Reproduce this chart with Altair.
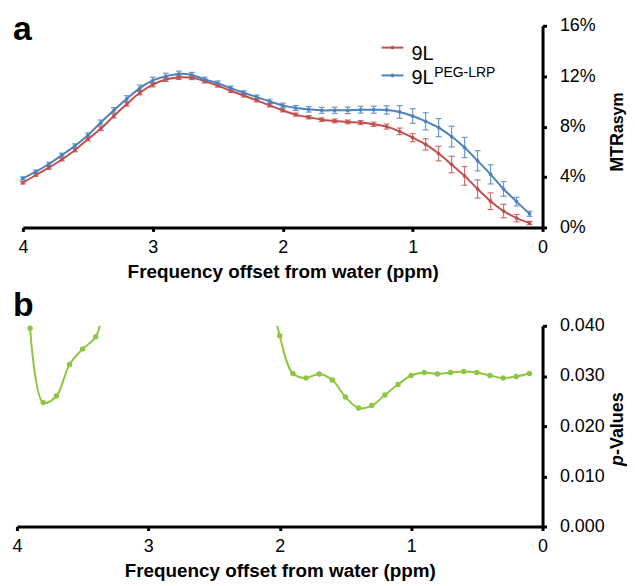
import altair as alt
import pandas as pd

FONT = "Liberation Sans"
RED = "#C0504D"
BLUE = "#4F81BD"
GREEN = "#8DC63F"

# ---------------- data ----------------
ppm = [4.0, 3.9, 3.8, 3.7, 3.6, 3.5, 3.4, 3.3, 3.2, 3.1, 3.0,
       2.9, 2.8, 2.7, 2.6, 2.5, 2.4, 2.3, 2.2, 2.1, 2.0,
       1.9, 1.8, 1.7, 1.6, 1.5, 1.4, 1.3, 1.2, 1.1, 1.0,
       0.9, 0.8, 0.7, 0.6, 0.5, 0.4, 0.3, 0.2, 0.1]

series_names = ["9L", "9L PEG-LRP"]

mtr_9l = [3.55, 4.16, 4.74, 5.39, 6.13, 7.00, 7.84, 8.84, 9.79, 10.68, 11.32,
          11.74, 11.89, 11.87, 11.60, 11.26, 10.84, 10.47, 10.08, 9.68, 9.29,
          8.95, 8.74, 8.55, 8.45, 8.37, 8.32, 8.18, 8.00, 7.62, 7.12,
          6.59, 5.86, 4.99, 4.09, 3.05, 2.08, 1.30, 0.74, 0.35]
err_9l = [0.10, 0.10, 0.12, 0.12, 0.13, 0.14, 0.15, 0.16, 0.16, 0.17, 0.17,
          0.16, 0.15, 0.14, 0.14, 0.13, 0.13, 0.12, 0.12, 0.12, 0.12,
          0.12, 0.13, 0.14, 0.15, 0.15, 0.16, 0.17, 0.20, 0.26, 0.32,
          0.45, 0.58, 0.66, 0.74, 0.72, 0.66, 0.53, 0.29, 0.13]

mtr_peg = [3.89, 4.42, 5.03, 5.74, 6.47, 7.32, 8.32, 9.29, 10.21, 11.05, 11.66,
           12.00, 12.18, 12.10, 11.74, 11.45, 11.05, 10.68, 10.34, 10.00, 9.68,
           9.47, 9.37, 9.29, 9.29, 9.29, 9.34, 9.34, 9.32, 9.16, 8.84,
           8.42, 7.92, 7.21, 6.34, 5.29, 4.21, 3.05, 2.05, 1.08]
err_peg = [0.12, 0.13, 0.14, 0.15, 0.16, 0.18, 0.20, 0.22, 0.24, 0.25, 0.26,
           0.24, 0.22, 0.20, 0.18, 0.17, 0.16, 0.16, 0.16, 0.17, 0.18,
           0.20, 0.22, 0.24, 0.25, 0.26, 0.27, 0.28, 0.33, 0.50, 0.58,
           0.68, 0.72, 0.82, 0.80, 0.80, 0.76, 0.58, 0.34, 0.20]

# p-values (two visible segments; the first/last value of each runs off the top)
ppm_p1 = [3.9, 3.8, 3.7, 3.6, 3.5, 3.4, 3.3]
pval_1 = [0.0395, 0.0247, 0.0260, 0.0323, 0.0354, 0.0378, 0.0500]
ppm_p2 = [2.1, 2.0, 1.9, 1.8, 1.7, 1.6, 1.5, 1.4, 1.3, 1.2, 1.1,
          1.0, 0.9, 0.8, 0.7, 0.6, 0.5, 0.4, 0.3, 0.2, 0.1]
pval_2 = [0.0520, 0.0380, 0.0305, 0.0296, 0.0304, 0.0292, 0.0258, 0.0236, 0.0241, 0.0262, 0.0283,
          0.0301, 0.0307, 0.0304, 0.0307, 0.0309, 0.0307, 0.0301, 0.0296, 0.0299, 0.0305]

x_ticks = [0, 1, 2, 3, 4]
mtr_ticks = [0, 4, 8, 12, 16]
p_ticks = [0.0, 0.01, 0.02, 0.03, 0.04]

# ---------------- frames ----------------
top_df = pd.DataFrame({
    "ppm": ppm * 2,
    "mtr": mtr_9l + mtr_peg,
    "err": err_9l + err_peg,
    "series": [series_names[0]] * len(ppm) + [series_names[1]] * len(ppm),
})
p_df = pd.DataFrame({
    "ppm": ppm_p1 + ppm_p2,
    "p": pval_1 + pval_2,
    "seg": ["s1"] * len(ppm_p1) + ["s2"] * len(ppm_p2),
})

PW = 529  # plot width of both panels

# ---------------- shared styling ----------------
def x_enc(top_panel):
    sc = dict(domain=[4, 0], nice=False, zero=False)
    if top_panel:
        sc["range"] = [6, PW]
    return alt.X(
        "ppm:Q",
        scale=alt.Scale(**sc),
        axis=alt.Axis(
            values=x_ticks, format="d", title="Frequency offset from water (ppm)",
            titleFont=FONT, titleFontSize=19, titleFontWeight="bold", titleColor="black",
            titlePadding=6, labelFont=FONT, labelFontSize=18, labelColor="black",
            labelPadding=7, labelFlush=False, domainColor="black", domainWidth=3,
            tickColor="black", tickWidth=3, tickSize=4, grid=False,
        ),
    )

def y_axis(values, **kw):
    return alt.Axis(
        orient="right", values=values, title=None,
        labelFont=FONT, labelFontSize=18, labelColor="black", labelPadding=13,
        domainColor="black", domainWidth=3, tickColor="black", tickWidth=3,
        tickSize=4, grid=False, **kw,
    )

color = alt.Color("series:N", scale=alt.Scale(domain=series_names, range=[RED, BLUE]), legend=None)

# ---------------- top panel ----------------
base_top = alt.Chart(top_df)
ysc = alt.Scale(domain=[0, 16], nice=False)
y_top = alt.Y("mtr:Q", scale=ysc, axis=y_axis(mtr_ticks, labelExpr="datum.value + '%'"))

err_rule = base_top.transform_calculate(
    lo="datum.mtr - datum.err", hi="datum.mtr + datum.err"
).mark_rule(strokeWidth=1.2, opacity=0.8).encode(
    x=x_enc(True), y=alt.Y("lo:Q", scale=ysc), y2="hi:Q", color=color)
cap_lo = base_top.transform_calculate(lo="datum.mtr - datum.err").mark_tick(
    orient="horizontal", size=6, thickness=1.2, opacity=0.8).encode(
    x=x_enc(True), y=alt.Y("lo:Q", scale=ysc), color=color)
cap_hi = base_top.transform_calculate(hi="datum.mtr + datum.err").mark_tick(
    orient="horizontal", size=6, thickness=1.2, opacity=0.8).encode(
    x=x_enc(True), y=alt.Y("hi:Q", scale=ysc), color=color)
lines = base_top.mark_line(strokeWidth=2, interpolate="catmull-rom").encode(
    x=x_enc(True), y=y_top, color=color, detail="series:N")
pts = base_top.mark_circle(size=14, opacity=1).encode(x=x_enc(True), y=y_top, color=color)

def one(label):
    return alt.Chart(pd.DataFrame({"label": [label]}))

leg = []
for name, col, ly in [(series_names[0], RED, 22), (series_names[1], BLUE, 50)]:
    leg.append(one(name).mark_rule(strokeWidth=2).encode(
        x=alt.value(367), x2=alt.value(389), y=alt.value(ly), color=alt.value(col)))
    leg.append(one(name).mark_circle(size=14, opacity=1).encode(
        x=alt.value(378), y=alt.value(ly), color=alt.value(col)))
leg.append(one("9L").mark_text(font=FONT, fontSize=20, align="left", baseline="alphabetic",
                               color="black").encode(x=alt.value(397), y=alt.value(34), text="label:N"))
leg.append(one("9L").mark_text(font=FONT, fontSize=20, align="left", baseline="alphabetic",
                               color="black").encode(x=alt.value(397), y=alt.value(59), text="label:N"))
leg.append(one("PEG-LRP").mark_text(font=FONT, fontSize=14, align="left", baseline="alphabetic",
                                    color="black").encode(x=alt.value(420), y=alt.value(52), text="label:N"))

lab_a = one("a").mark_text(font=FONT, fontSize=34, fontWeight="bold", align="left",
                           baseline="alphabetic", color="black").encode(
    x=alt.value(-4), y=alt.value(14), text="label:N")
mtr_t = one("MTR").mark_text(font=FONT, fontSize=18, fontWeight="bold", align="left",
                             baseline="alphabetic", angle=270, color="black").encode(
    x=alt.value(610), y=alt.value(147), text="label:N")
asym_t = one("asym").mark_text(font=FONT, fontSize=16, fontWeight="bold", align="left",
                               baseline="alphabetic", angle=270, color="black").encode(
    x=alt.value(610), y=alt.value(108), text="label:N")

top = alt.layer(err_rule, cap_lo, cap_hi, lines, pts, *leg, lab_a, mtr_t, asym_t).properties(
    width=PW, height=203)

# ---------------- bottom panel ----------------
y_p = alt.Y("p:Q", scale=alt.Scale(domain=[0, 0.04], nice=False),
            axis=y_axis(p_ticks, format=".3f"))
p_line = alt.Chart(p_df).mark_line(strokeWidth=2, interpolate="catmull-rom", clip=True,
                                   color=GREEN).encode(x=x_enc(False), y=y_p, detail="seg:N")
p_pts = alt.Chart(p_df).transform_filter("datum.p <= 0.04").mark_circle(
    size=30, opacity=1, color=GREEN).encode(x=x_enc(False), y=y_p)

lab_b = one("b").mark_text(font=FONT, fontSize=34, fontWeight="bold", align="left",
                           baseline="alphabetic", color="black").encode(
    x=alt.value(-4), y=alt.value(-10), text="label:N")
p_t = one("p").mark_text(font=FONT, fontSize=18, fontWeight="bold", fontStyle="italic",
                         align="left", baseline="alphabetic", angle=270, color="black").encode(
    x=alt.value(610), y=alt.value(141), text="label:N")
val_t = one("-Values").mark_text(font=FONT, fontSize=18, fontWeight="bold",
                                 align="left", baseline="alphabetic", angle=270, color="black").encode(
    x=alt.value(610), y=alt.value(130), text="label:N")

bottom = alt.layer(p_line, p_pts, lab_b, p_t, val_t).properties(width=PW, height=202)

chart = alt.vconcat(top, bottom, spacing=8).properties(
    padding={"left": 3, "top": 3, "right": 0, "bottom": 0},
    background="white",
).configure_view(stroke=None)

chart.save("out.html", embed_options={"renderer": "svg", "actions": False})
